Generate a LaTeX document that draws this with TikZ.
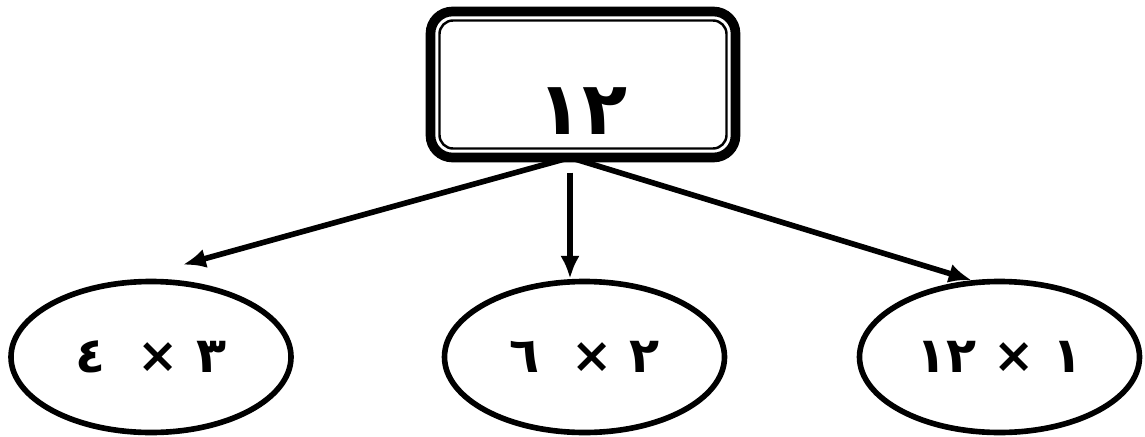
\documentclass[tikz,border=0pt]{standalone}
\usepackage{fontspec}
\newfontfamily\arabicfont[Script=Arabic]{DejaVu Sans}
\TeXXeTstate=1
\usetikzlibrary{shapes.geometric, arrows.meta, positioning, calc}

\begin{document}
\begin{tikzpicture}[
    numbox/.style={draw, line width=5.5pt, rounded corners=0.44cm, minimum width=6.1cm, minimum height=2.92cm,
        inner sep=0pt, outer sep=0pt, text height=2cm, text depth=0pt, font=\arabicfont\bfseries\fontsize{42}{50}\selectfont},
    innerline/.style={line width=1.4pt, rounded corners=0.27cm},
    factor/.style={ellipse, draw, line width=3.2pt, minimum width=5.6cm, minimum height=3.02cm,
        inner sep=0pt, font=\arabicfont\bfseries\fontsize{28}{32}\selectfont},
    arrow/.style={-{Latex[length=13pt,width=11pt]}, line width=3.2pt}
]
    \useasboundingbox (0,0) rectangle (22.9,-8.72);

    % العدد
    \node[numbox] (top) at (11.66,-1.69) {\beginR ١٢\endR};
    \draw[innerline] ($(top.north west)+(0.18,-0.18)$) rectangle ($(top.south east)+(-0.18,0.18)$);

    % العوامل
    \node[factor] (l) at (3.02,-7.14) {\beginR ٣ × \hspace{0.3cm}٤\endR};
    \node[factor] (m) at (11.69,-7.14) {\beginR ٢ × \hspace{0.3cm}٦\endR};
    \node[factor] (r) at (19.99,-7.14) {\beginR ١ × ١٢\endR};

    % الأسهم
    \coordinate (hub) at ($(top.south)+(-0.26,0)$);
    \coordinate (ltip) at ($(l.north)+(0.64,0.28)$);
    \draw[arrow] (hub) -- (ltip);
    \draw[arrow, shorten <=0.3cm] (hub) -- (hub |- m.north);
    \draw[arrow] (hub) -- (r.110);
\end{tikzpicture}
\end{document}
